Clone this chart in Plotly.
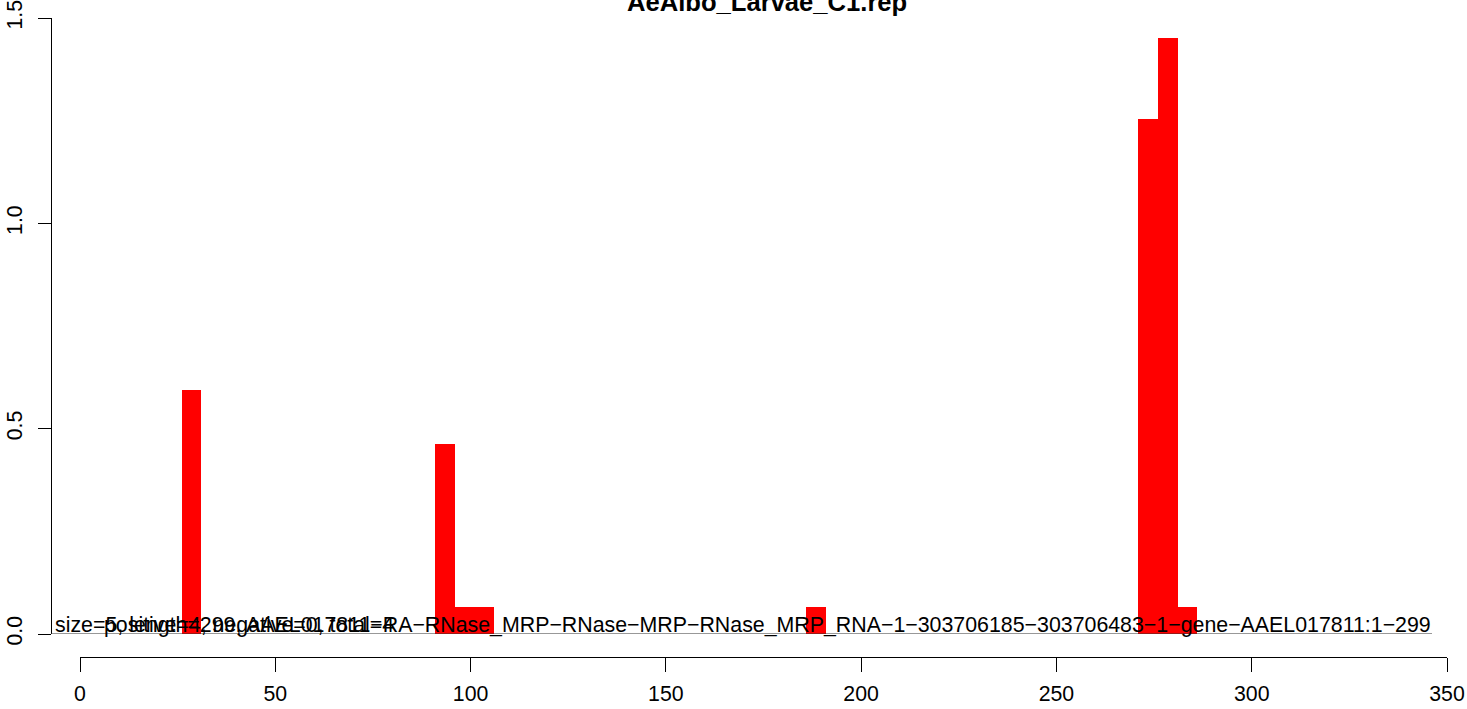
import plotly.graph_objects as go

# bar left edges (5 wide bins) and heights
bin_starts = [26, 91, 96, 101, 186, 271, 276, 281]
bin_width = 5
heights = [0.594, 0.462, 0.066, 0.066, 0.066, 1.254, 1.452, 0.066]

x_ticks = [0, 50, 100, 150, 200, 250, 300, 350]
y_ticks = [0, 0.5, 1.0, 1.5]
y_tick_labels = ["0.0", "0.5", "1.0", "1.5"]

title = "AeAlbo_Larvae_C1.rep"
label_main = ("size=5, length=299, AAEL017811\u2212RA\u2212RNase_MRP\u2212RNase\u2212MRP\u2212"
              "RNase_MRP_RNA\u22121\u2212303706185\u2212303706483\u22121\u2212gene\u2212AAEL017811:1\u2212299")
label_counts = "positive=4, negative=0, total=4"

W, H = 1467, 709
FONT = "Liberation Sans, Arial, sans-serif"


def px_x(p):
    return p / W


def px_y(p):
    return (H - p) / H


def main():
    centers = [s + bin_width / 2 for s in bin_starts]
    fig = go.Figure()
    fig.add_trace(
        go.Bar(
            x=centers,
            y=heights,
            width=[bin_width] * len(centers),
            marker=dict(color="#FF0000", line=dict(width=0)),
            showlegend=False,
        )
    )

    # baseline under the label text
    fig.add_shape(type="line", xref="paper", yref="y",
                  x0=px_x(51), x1=px_x(1432), y0=0, y1=0,
                  line=dict(color="#333333", width=1.2))

    fig.add_annotation(text=label_main, xref="paper", yref="y", x=px_x(53), y=0,
                       xanchor="left", yanchor="bottom", yshift=-5, showarrow=False,
                       font=dict(family=FONT, size=21.35, color="black"))
    fig.add_annotation(text=label_counts, xref="paper", yref="y", x=px_x(102), y=0,
                       xanchor="left", yanchor="bottom", yshift=-5, showarrow=False,
                       font=dict(family=FONT, size=21.35, color="black"))

    fig.add_annotation(text="<b>" + title + "</b>", xref="paper", yref="paper",
                       x=px_x(767), y=px_y(11.5), xanchor="center", yanchor="bottom",
                       yshift=-7, showarrow=False,
                       font=dict(family=FONT, size=25.6, color="black"))

    fig.update_layout(
        template="none",
        width=W,
        height=H,
        margin=dict(l=0, r=0, t=0, b=0, autoexpand=False),
        paper_bgcolor="white",
        plot_bgcolor="white",
        bargap=0,
        font=dict(family=FONT, size=21.3, color="black"),
        xaxis=dict(
            domain=[px_x(80), px_x(1447)],
            range=[0, 350],
            anchor="free",
            position=px_y(657),
            automargin=False,
            showline=True, linecolor="black", linewidth=1.3,
            ticks="outside", ticklen=14, tickwidth=1.3, tickcolor="black",
            tickvals=x_ticks, ticklabelstandoff=3,
            showgrid=False, zeroline=False,
        ),
        yaxis=dict(
            domain=[px_y(634), px_y(18)],
            range=[0, 1.5],
            anchor="free",
            position=px_x(51),
            automargin=False,
            showline=True, linecolor="black", linewidth=1.3,
            ticks="outside", ticklen=13, tickwidth=1.3, tickcolor="black",
            tickvals=y_ticks, ticktext=y_tick_labels,
            tickangle=-90, ticklabelstandoff=7,
            showgrid=False, zeroline=False,
        ),
    )
    # drop the browser's default page margin so the figure sits at the corner
    fig.write_html("out.html", config={"displayModeBar": False},
                   post_script="document.body.style.margin = '0';")


if __name__ == "__main__":
    main()
